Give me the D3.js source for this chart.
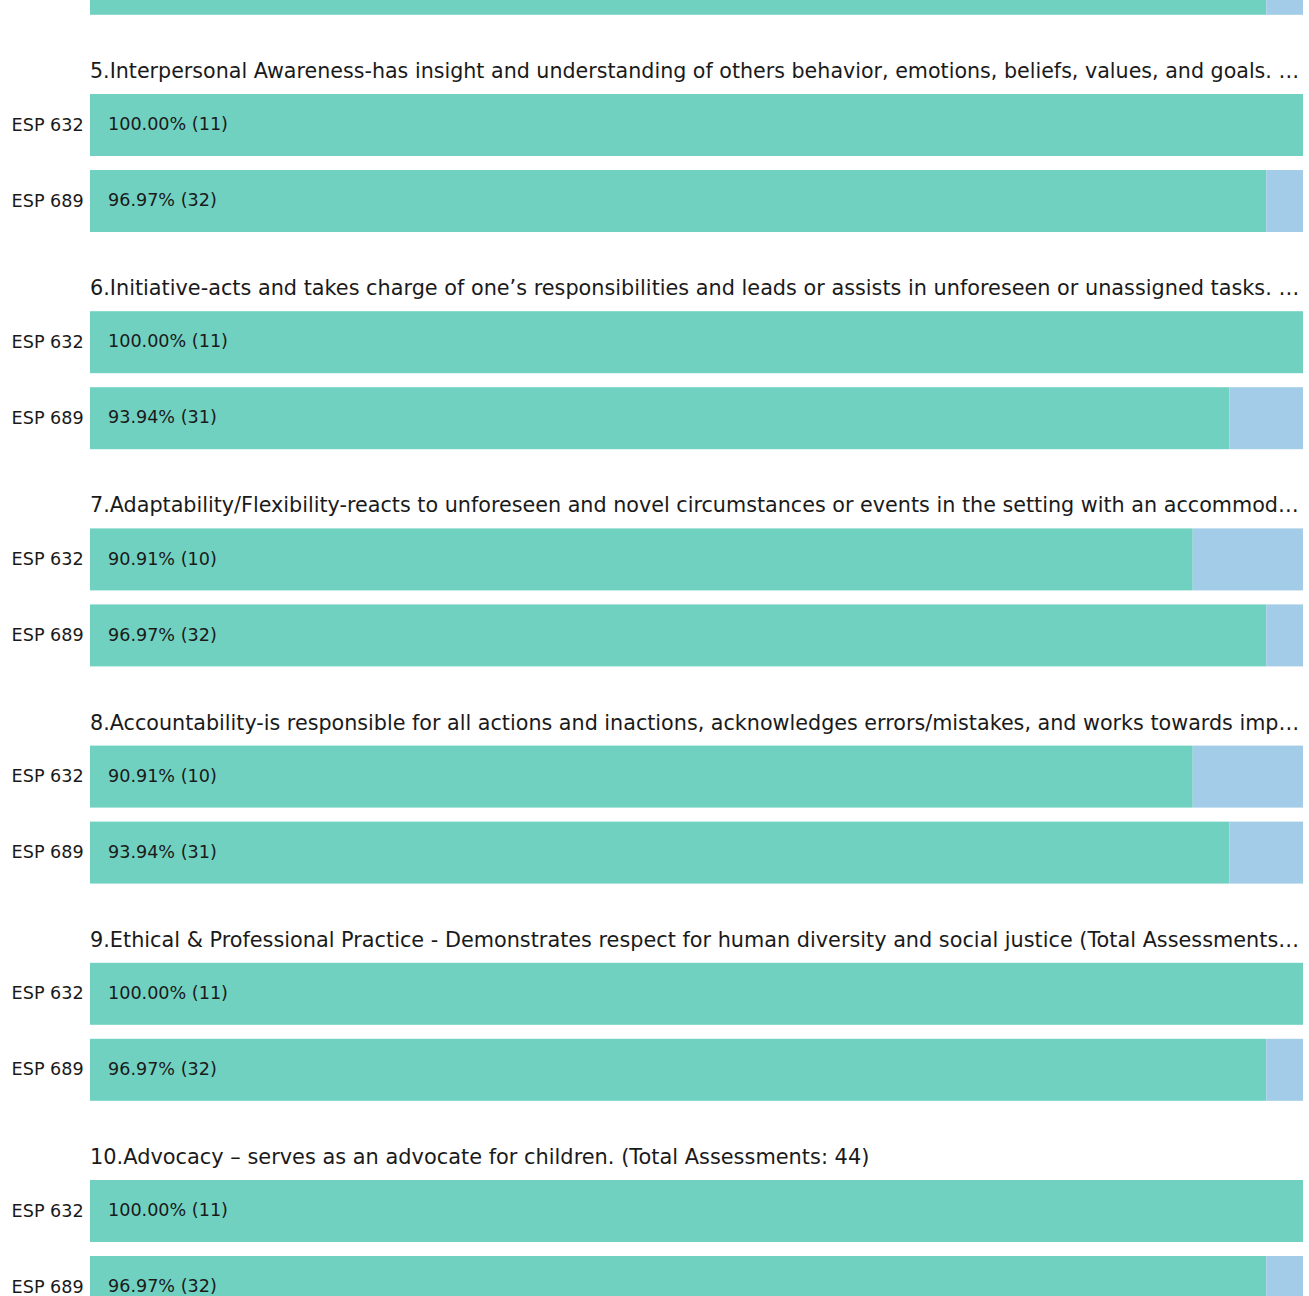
<!DOCTYPE html>
<html><head><meta charset="utf-8">
<script src="https://cdn.jsdelivr.net/npm/d3@7"></script>
<style>html,body{margin:0;padding:0;background:#fff;overflow:hidden}</style>
</head><body>
<svg id="chart" width="1309" height="1296"></svg>
<script>
const sections = ["4","5","6","7","8","9","10"];
const titles = [
  "",
  "5.Interpersonal Awareness-has insight and understanding of others behavior, emotions, beliefs, values, and goals. …",
  "6.Initiative-acts and takes charge of one’s responsibilities and leads or assists in unforeseen or unassigned tasks. …",
  "7.Adaptability/Flexibility-reacts to unforeseen and novel circumstances or events in the setting with an accommod…",
  "8.Accountability-is responsible for all actions and inactions, acknowledges errors/mistakes, and works towards imp…",
  "9.Ethical & Professional Practice - Demonstrates respect for human diversity and social justice (Total Assessments…",
  "10.Advocacy – serves as an advocate for children. (Total Assessments: 44)"
];
const groups = ["ESP 632","ESP 689"];
const pct632 = [100.00, 100.00, 100.00, 90.91, 90.91, 100.00, 100.00];
const cnt632 = [11, 11, 11, 10, 10, 11, 11];
const pct689 = [96.97, 96.97, 93.94, 96.97, 93.94, 96.97, 96.97];
const cnt689 = [32, 32, 31, 32, 31, 32, 32];

const W = 1309, H = 1296;
const svg = d3.select("#chart");
const x = d3.scaleLinear().domain([0,100]).range([90,1303]);
const blockH = 217.2;
const firstStart = 46 - blockH;
const ySec = d3.scaleBand().domain(sections)
  .range([firstStart, firstStart + blockH*sections.length]).padding(0);
const yBar = d3.scaleBand().domain(groups).range([48,186]).paddingInner(14/76).paddingOuter(0);
const colMet = "#71d1c1", colRest = "#a2cce7";
const maxTitleW = x(100) - x(0) - 4;
const titleFS = 20.9;

sections.forEach((s,i) => {
  const top = ySec(s);
  const g = svg.append("g").attr("transform",`translate(0,${top})`);
  if (titles[i]) {
    const t = g.append("text").attr("x",x(0)).attr("y",32)
      .attr("font-family","DejaVu Sans").attr("font-size",titleFS).attr("fill","#1a1a1a")
      .text(titles[i]);
    const w = t.node().getComputedTextLength();
    if (w > maxTitleW) t.attr("font-size", titleFS * maxTitleW / w);
  }
  const rows = [
    {grp:"ESP 632", p:pct632[i], c:cnt632[i]},
    {grp:"ESP 689", p:pct689[i], c:cnt689[i]}
  ];
  rows.forEach(r => {
    const yy = yBar(r.grp), bh = yBar.bandwidth();
    g.append("rect").attr("x",x(0)).attr("y",yy).attr("width",x(r.p)-x(0)).attr("height",bh).attr("fill",colMet);
    if (r.p < 100) g.append("rect").attr("x",x(r.p)).attr("y",yy).attr("width",x(100)-x(r.p)).attr("height",bh).attr("fill",colRest);
    const cy = top + yy + bh/2;
    if (cy > 5) {
      g.append("text").attr("x",x(0)-6.3).attr("y",yy+bh/2-0.5).attr("dy","0.35em")
        .attr("text-anchor","end").attr("font-family","DejaVu Sans").attr("font-size",17.6).attr("fill","#1a1a1a")
        .text(r.grp);
      g.append("text").attr("x",x(0)+18).attr("y",yy+bh/2-1).attr("dy","0.35em")
        .attr("font-family","DejaVu Sans").attr("font-size",17.6).attr("fill","#1a1a1a")
        .text(`${r.p.toFixed(2)}% (${r.c})`);
    }
  });
});
</script>
</body></html>
